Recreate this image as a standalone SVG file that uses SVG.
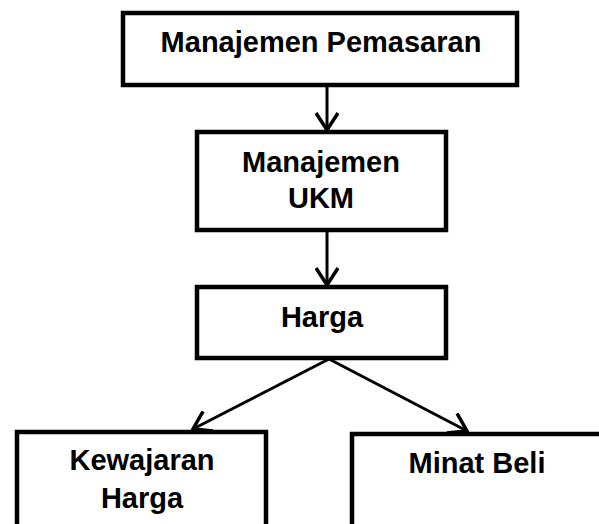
<svg xmlns="http://www.w3.org/2000/svg" width="599" height="524" viewBox="0 0 599 524">
<style>
.box{fill:#fff;stroke:#000;stroke-width:4.5}
.t{font-family:"Liberation Sans",Arial,sans-serif;font-weight:bold;font-size:29px;fill:#000;text-anchor:middle}
.c{stroke:#000;stroke-width:3;fill:none}
</style>
<defs>
<marker id="ah" viewBox="0 0 20 24" refX="18" refY="12" markerWidth="20" markerHeight="24" markerUnits="userSpaceOnUse" orient="auto">
<path d="M1,1 L18,12 L1,23" fill="none" stroke="#000" stroke-width="3.5"/>
</marker>
</defs>
<rect width="599" height="524" fill="#fff"/>
<g id="n1"><rect class="box" x="123" y="13" width="394" height="72"/><text class="t" x="321" y="52">Manajemen Pemasaran</text></g>
<g id="n2"><rect class="box" x="197" y="132" width="249" height="98"/><text class="t" x="321" y="172">Manajemen</text><text class="t" x="321" y="208">UKM</text></g>
<g id="n3"><rect class="box" x="197" y="287" width="249" height="71"/><text class="t" x="322" y="327">Harga</text></g>
<g id="n4"><rect class="box" x="17" y="432" width="249" height="110"/><text class="t" x="142" y="470">Kewajaran</text><text class="t" x="142" y="508">Harga</text></g>
<g id="n5"><rect class="box" x="352" y="434" width="260" height="110"/><text class="t" x="477" y="473">Minat Beli</text></g>
<g id="connectors">
<line class="c" x1="327" y1="85" x2="327" y2="130" marker-end="url(#ah)"/>
<line class="c" x1="327" y1="230" x2="327" y2="285" marker-end="url(#ah)"/>
<line class="c" x1="329" y1="359" x2="193" y2="429" marker-end="url(#ah)"/>
<line class="c" x1="329" y1="359" x2="467" y2="431" marker-end="url(#ah)"/>
</g>
</svg>
